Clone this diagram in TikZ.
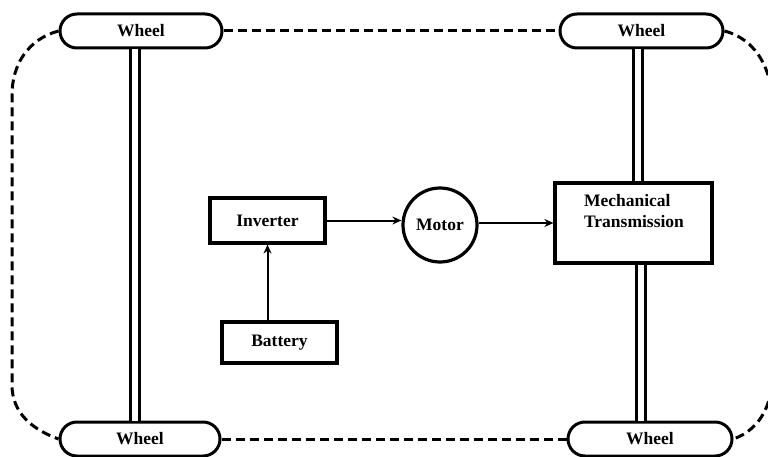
\documentclass[tikz,border=0pt]{standalone}
\usepackage{fontspec}
\setmainfont{Liberation Serif}
\usetikzlibrary{shapes.misc,arrows.meta}
\begin{document}
\begin{tikzpicture}[x=1pt,y=-1pt,
  every node/.style={font=\fontsize{17.5}{21}\selectfont\bfseries},
  wheel/.style={draw,rounded rectangle,line width=3pt,minimum height=34pt,inner sep=0pt},
  blk/.style={draw,rectangle,line width=3.2pt,inner sep=0pt},
  arr/.style={line width=2pt,-{Stealth[length=9pt,width=8pt]}},
  dsh/.style={line width=3pt,dash pattern=on 9pt off 5pt},
  axle/.style={double,double distance=6pt,line width=3pt}]
\useasboundingbox (0,0) rectangle (768,457);
% wheels
\node[wheel,minimum width=162pt] (wTL) at (141,31) {Wheel};
\node[wheel,minimum width=163pt] (wTR) at (641.5,31) {Wheel};
\node[wheel,minimum width=160pt] (wBL) at (140,439) {Wheel};
\node[wheel,minimum width=164pt] (wBR) at (650,439) {Wheel};
% blocks
\node[blk,minimum width=115pt,minimum height=45pt] (inv) at (267.5,220.5) {Inverter};
\node[draw,circle,line width=3.2pt,minimum size=74pt,inner sep=0pt] (motor) at (440,225) {Motor};
\node[blk,minimum width=157pt,minimum height=80pt] (mt) at (633.5,223) {};
\node[align=left,inner sep=0pt] (mttext) at (634,211) {Mechanical\\Transmission};
\node[blk,minimum width=115pt,minimum height=41pt] (bat) at (279.5,342.5) {Battery};
% arrows
\draw[arr] (inv.east) -- (inv.east -| motor.west);
\draw[arr] (motor.east |- 0,223) -- (mt.west |- 0,223);
\draw[arr] (inv.south |- bat.north) -- (inv.south);
% axles
\draw[axle] ([xshift=-6pt]wTL.south) -- ([xshift=-5pt]wBL.north);
\draw[axle] ([xshift=-3.5pt]wTR.south) -- ([xshift=-3.5pt]wTR.south |- mt.north);
\draw[axle] ([xshift=-9pt]wBR.north |- mt.south) -- ([xshift=-9pt]wBR.north);
% dashed loop
\coordinate (L1) at (12,95);
\coordinate (L2) at (12,385);
\coordinate (R1) at (773,110);
\coordinate (R2) at (773,370);
\draw[dsh] (wTL.east) -- (wTR.west);
\draw[dsh] (wBL.east) -- (wBR.west);
\draw[dsh] (wTL.west) to[out=195,in=90] (L1) -- (L2) to[out=-90,in=160] (wBL.west);
\draw[dsh] (wTR.east) to[out=-15,in=90] (R1) -- (R2) to[out=-90,in=20] (wBR.east);
\end{tikzpicture}
\end{document}
